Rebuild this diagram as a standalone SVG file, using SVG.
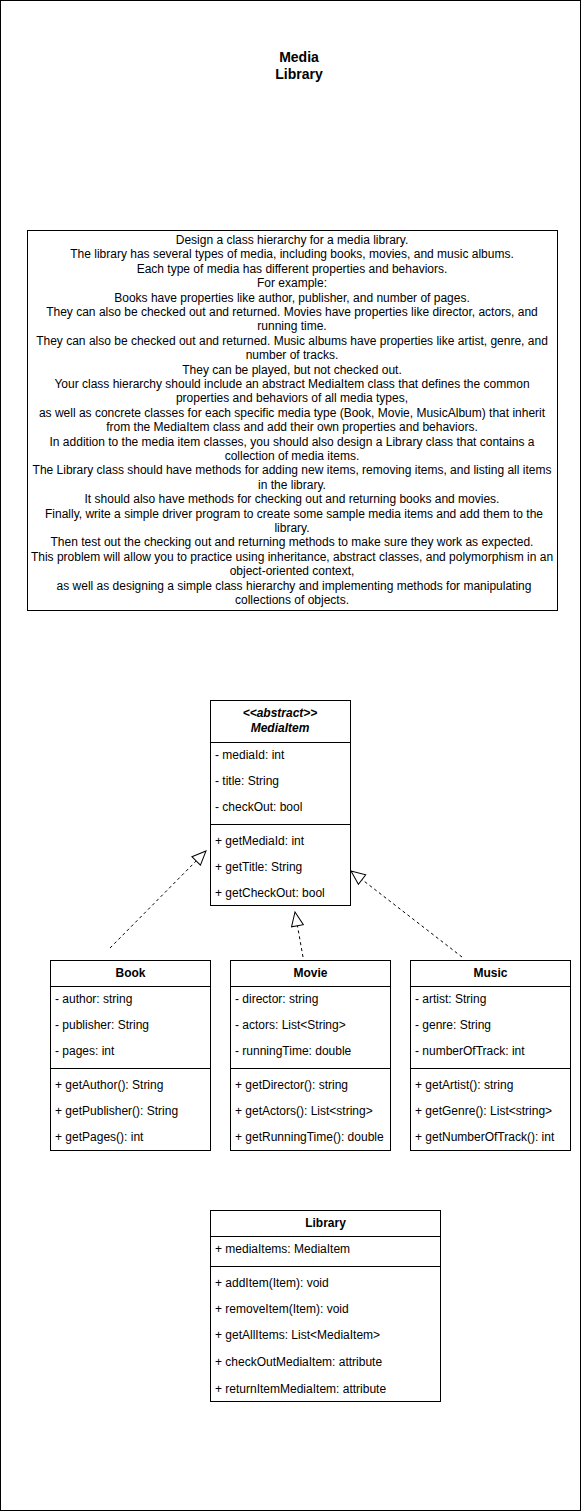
<svg xmlns="http://www.w3.org/2000/svg" width="581" height="1511" viewBox="0 0 581 1511">
<style>
text{font-family:"Liberation Sans",Arial,sans-serif;font-size:12px;fill:#000}
.c{text-anchor:middle}
.b{font-weight:bold}
.i{font-style:italic}
.box{fill:#fff;stroke:#000;stroke-width:1}
.ln{stroke:#000;stroke-width:1}
.dash{fill:none;stroke:#000;stroke-width:1;stroke-dasharray:3 3}
</style>
<defs>
<marker id="tri" viewBox="0 0 16 14" refX="15" refY="7" markerWidth="16" markerHeight="14" markerUnits="userSpaceOnUse" orient="auto">
<path d="M1,1 L15,7 L1,13 Z" fill="#fff" stroke="#000" stroke-width="1"/>
</marker>
</defs>
<rect x="0.5" y="0.5" width="580" height="1510" fill="#fff" stroke="#000"/>
<g id="title">
<text class="c b" x="299" y="62" style="font-size:14px">Media</text>
<text class="c b" x="299" y="79" style="font-size:14px">Library</text>
</g>
<g id="description">
<rect class="box" x="27.5" y="230.5" width="530" height="380"/>
<text class="c" x="292" y="244">Design a class hierarchy for a media library.</text>
<text class="c" x="292" y="258.4">The library has several types of media, including books, movies, and music albums.</text>
<text class="c" x="292" y="272.8">Each type of media has different properties and behaviors.</text>
<text class="c" x="292" y="287.2">For example:</text>
<text class="c" x="292" y="301.6">Books have properties like author, publisher, and number of pages.</text>
<text class="c" x="292" y="316">They can also be checked out and returned. Movies have properties like director, actors, and</text>
<text class="c" x="292" y="330.4">running time.</text>
<text class="c" x="292" y="344.8">They can also be checked out and returned. Music albums have properties like artist, genre, and</text>
<text class="c" x="292" y="359.2">number of tracks.</text>
<text class="c" x="292" y="373.6">They can be played, but not checked out.</text>
<text class="c" x="292" y="388">Your class hierarchy should include an abstract MediaItem class that defines the common</text>
<text class="c" x="292" y="402.4">properties and behaviors of all media types,</text>
<text class="c" x="292" y="416.8">as well as concrete classes for each specific media type (Book, Movie, MusicAlbum) that inherit</text>
<text class="c" x="292" y="431.2">from the MediaItem class and add their own properties and behaviors.</text>
<text class="c" x="292" y="445.6">In addition to the media item classes, you should also design a Library class that contains a</text>
<text class="c" x="292" y="460">collection of media items.</text>
<text class="c" x="292" y="474.4">The Library class should have methods for adding new items, removing items, and listing all items</text>
<text class="c" x="292" y="488.8">in the library.</text>
<text class="c" x="292" y="503.2">It should also have methods for checking out and returning books and movies.</text>
<text class="c" x="294" y="517.6">Finally, write a simple driver program to create some sample media items and add them to the</text>
<text class="c" x="292" y="532">library.</text>
<text class="c" x="292" y="546.4">Then test out the checking out and returning methods to make sure they work as expected.</text>
<text class="c" x="292" y="560.8">This problem will allow you to practice using inheritance, abstract classes, and polymorphism in an</text>
<text class="c" x="292" y="575.2">object-oriented context,</text>
<text class="c" x="294" y="589.6">as well as designing a simple class hierarchy and implementing methods for manipulating</text>
<text class="c" x="292" y="604">collections of objects.</text>
</g>
<g id="connectors">
<line class="dash" x1="110" y1="948" x2="206" y2="851" marker-end="url(#tri)"/>
<line class="dash" x1="303" y1="957" x2="295" y2="912" marker-end="url(#tri)"/>
<line class="dash" x1="462" y1="957" x2="351" y2="871" marker-end="url(#tri)"/>
</g>
<g id="MediaItem">
<rect class="box" x="210.5" y="700.5" width="140" height="205"/>
<text class="c b i" x="280" y="717">&lt;&lt;abstract&gt;&gt;</text>
<text class="c b i" x="280" y="732">MediaItem</text>
<line class="ln" x1="210.5" y1="742.5" x2="350.5" y2="742.5"/>
<text x="215" y="759">- mediaId: int</text>
<text x="215" y="785">- title: String</text>
<text x="215" y="811">- checkOut: bool</text>
<line class="ln" x1="210.5" y1="824.5" x2="350.5" y2="824.5"/>
<text x="215" y="845">+ getMediaId: int</text>
<text x="215" y="871">+ getTitle: String</text>
<text x="215" y="897">+ getCheckOut: bool</text>
</g>
<g id="Book">
<rect class="box" x="50.5" y="960.5" width="160" height="190"/>
<text class="c b" x="130.5" y="977">Book</text>
<line class="ln" x1="50.5" y1="986.5" x2="210.5" y2="986.5"/>
<text x="55" y="1003">- author: string</text>
<text x="55" y="1029">- publisher: String</text>
<text x="55" y="1055">- pages: int</text>
<line class="ln" x1="50.5" y1="1068.5" x2="210.5" y2="1068.5"/>
<text x="55" y="1089">+ getAuthor(): String</text>
<text x="55" y="1115">+ getPublisher(): String</text>
<text x="55" y="1141">+ getPages(): int</text>
</g>
<g id="Movie">
<rect class="box" x="230.5" y="960.5" width="160" height="190"/>
<text class="c b" x="310.5" y="977">Movie</text>
<line class="ln" x1="230.5" y1="986.5" x2="390.5" y2="986.5"/>
<text x="235" y="1003">- director: string</text>
<text x="235" y="1029">- actors: List&lt;String&gt;</text>
<text x="235" y="1055">- runningTime: double</text>
<line class="ln" x1="230.5" y1="1068.5" x2="390.5" y2="1068.5"/>
<text x="235" y="1089">+ getDirector(): string</text>
<text x="235" y="1115">+ getActors(): List&lt;string&gt;</text>
<text x="235" y="1141">+ getRunningTime(): double</text>
</g>
<g id="Music">
<rect class="box" x="410.5" y="960.5" width="160" height="190"/>
<text class="c b" x="490.5" y="977">Music</text>
<line class="ln" x1="410.5" y1="986.5" x2="570.5" y2="986.5"/>
<text x="415" y="1003">- artist: String</text>
<text x="415" y="1029">- genre: String</text>
<text x="415" y="1055">- numberOfTrack: int</text>
<line class="ln" x1="410.5" y1="1068.5" x2="570.5" y2="1068.5"/>
<text x="415" y="1089">+ getArtist(): string</text>
<text x="415" y="1115">+ getGenre(): List&lt;string&gt;</text>
<text x="415" y="1141">+ getNumberOfTrack(): int</text>
</g>
<g id="Library">
<rect class="box" x="210.5" y="1210.5" width="230" height="191"/>
<text class="c b" x="325.5" y="1227">Library</text>
<line class="ln" x1="210.5" y1="1236.5" x2="440.5" y2="1236.5"/>
<text x="215" y="1253">+ mediaItems: MediaItem</text>
<line class="ln" x1="210.5" y1="1266.5" x2="440.5" y2="1266.5"/>
<text x="215" y="1287">+ addItem(Item): void</text>
<text x="215" y="1313">+ removeItem(Item): void</text>
<text x="215" y="1339">+ getAllItems: List&lt;MediaItem&gt;</text>
<text x="215" y="1366">+ checkOutMediaItem: attribute</text>
<text x="215" y="1393">+ returnItemMediaItem: attribute</text>
</g>
</svg>
